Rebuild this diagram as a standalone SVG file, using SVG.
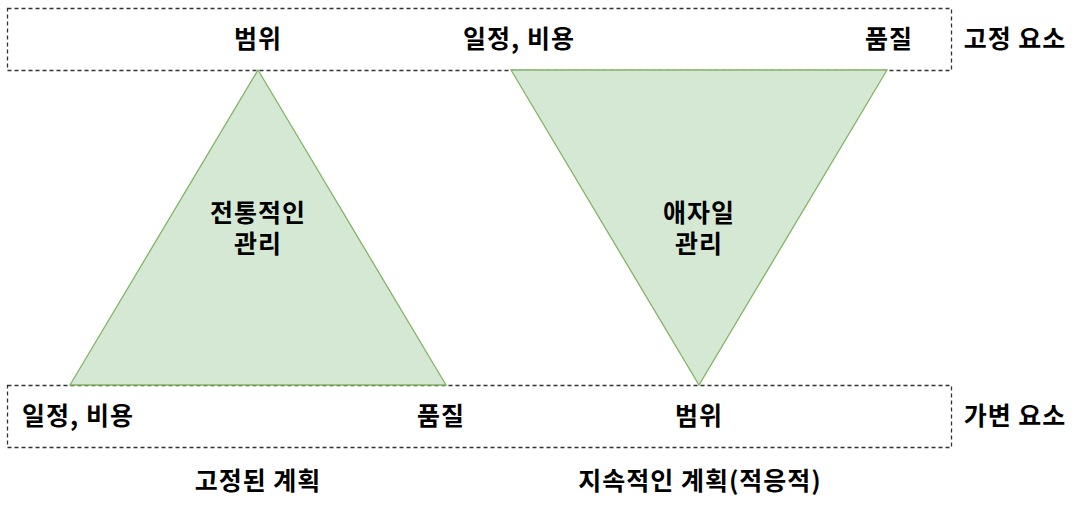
<svg xmlns="http://www.w3.org/2000/svg" width="1079" height="516" viewBox="0 0 1079 516">
<style>
.box{fill:none;stroke:#333333;stroke-width:1.3;stroke-dasharray:4 3}
.tri{fill:#d5e8d4;stroke:#82b366;stroke-width:1.3}
text{font-family:"Noto Sans CJK KR","Noto Sans",sans-serif;font-weight:bold;font-size:25px;letter-spacing:1px;fill:#000;text-anchor:middle}
</style>
<rect width="1079" height="516" fill="#ffffff"/>
<g id="fixed-box"><rect class="box" x="7.5" y="8.5" width="944" height="62"/></g>
<g id="variable-box"><rect class="box" x="7.5" y="385.5" width="944" height="62"/></g>
<g id="traditional"><polygon class="tri" points="258,70 446,385 70,385"/><text x="258" y="222"><tspan x="258">전통적인</tspan><tspan x="258" dy="31">관리</tspan></text></g>
<g id="agile"><polygon class="tri" points="511,70 887,70 699,385"/><text x="699" y="222"><tspan x="699">애자일</tspan><tspan x="699" dy="31">관리</tspan></text></g>
<g id="labels">
<text x="519" y="48">일정, 비용</text>
<text x="258" y="48">범위</text>
<text x="889" y="48">품질</text>
<text x="1015" y="48">고정 요소</text>
<text x="78" y="425">일정, 비용</text>
<text x="441" y="425">품질</text>
<text x="699" y="425">범위</text>
<text x="1015" y="425">가변 요소</text>
<text x="258" y="490">고정된 계획</text>
<text x="700" y="490">지속적인 계획(적응적)</text>
</g>
<g id="connectors"></g>
</svg>
